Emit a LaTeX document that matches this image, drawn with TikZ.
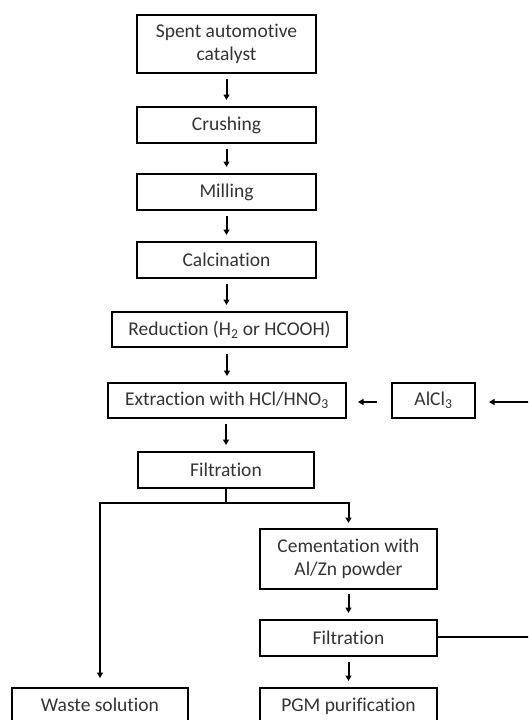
\documentclass[tikz,border=0pt]{standalone}
\usepackage{fontspec}
\setmainfont[Ligatures=NoCommon]{Carlito}
\usetikzlibrary{arrows.meta}
\begin{document}
\begin{tikzpicture}[x=1pt,y=1pt,
  box/.style={draw=black, line width=2pt, align=center, inner sep=0pt,
    font=\fontsize{19.5}{23}\selectfont, text=black!80},
  label/.style={font=\fontsize{19.5}{23}\selectfont, text=black!80, anchor=base},
  flow/.style={line width=2pt, -{Triangle[length=5.5pt,width=6pt]}},
  link/.style={line width=2pt}]
\useasboundingbox (0,0) rectangle (528,-720);
\clip (0,0) rectangle (528,-720);

% main chain
\node[box, minimum width=179pt, minimum height=58pt] (spent) at (226.5,-44) {Spent automotive\\catalyst};
\node[box, minimum width=179pt, minimum height=36pt] (crush) at (226.5,-125) {Crushing};
\node[box, minimum width=179pt, minimum height=36pt] (mill) at (226.5,-192) {Milling};
\node[box, minimum width=179pt, minimum height=36pt] (calc) at (226.5,-260) {Calcination};
\node[box, minimum width=235pt, minimum height=35pt] (red) at (229.5,-329.5) {Reduction (H\textsubscript{2} or HCOOH)};
\node[box, minimum width=238pt, minimum height=35pt] (ext) at (227,-400.5) {Extraction with HCl/HNO\textsubscript{3}};
\node[box, minimum width=83pt, minimum height=35pt] (alcl) at (433.5,-400.5) {AlCl\textsubscript{3}};
\node[box, minimum width=176pt, minimum height=36pt] (filt) at (226,-470) {Filtration};

% right branch
\node[box, minimum width=177pt, minimum height=60pt] (cem) at (348.5,-559) {Cementation with\\Al/Zn powder};
\node[box, minimum width=177pt, minimum height=36pt] (filtb) at (348.5,-638) {Filtration};
\node[box, minimum width=177pt, minimum height=40pt] (pgm) at (348.5,-708) {};
\node[label] (pgmt) at (348.5,-711) {PGM purification};

% left branch
\node[box, minimum width=176pt, minimum height=40pt] (waste) at (100,-708) {};
\node[label] (wastet) at (100,-711) {Waste solution};

% vertical arrows
\draw[flow, shorten <=5pt, shorten >=6pt] (spent) -- (crush);
\draw[flow, shorten <=5pt, shorten >=6pt] (crush) -- (mill);
\draw[flow, shorten <=5pt, shorten >=6pt] (mill) -- (calc);
\draw[flow, shorten <=5pt, shorten >=6pt] (calc.south) -- (calc.south |- red.north);
\draw[flow, shorten <=6pt, shorten >=6pt] (red.south -| ext.north) -- (ext.north);
\draw[flow, shorten <=5pt, shorten >=6pt] (ext.south -| filt.north) -- (filt.north);
\draw[flow, shorten <=4pt, shorten >=6pt] (cem) -- (filtb);
\draw[flow, shorten <=5pt, shorten >=6pt] (filtb) -- (pgm);

% AlCl3 feed and recycle
\coordinate (edgeA) at (530,-402);
\coordinate (edgeB) at (530,-637);
\draw[flow, shorten >=13pt] (edgeA) -- (alcl.east |- edgeA);
\draw[flow, shorten <=14pt, shorten >=11pt] (alcl.west |- edgeA) -- (ext.east |- edgeA);
\draw[link] (filtb.east |- edgeB) -- (edgeB);

% split after first filtration
\coordinate (split) at (226,-503);
\draw[link] (filt.south) -- (split);
\draw[flow, shorten >=9pt] (split) -| (waste.north);
\draw[flow, shorten >=5pt] (split) -| (cem.north);
\end{tikzpicture}
\end{document}
